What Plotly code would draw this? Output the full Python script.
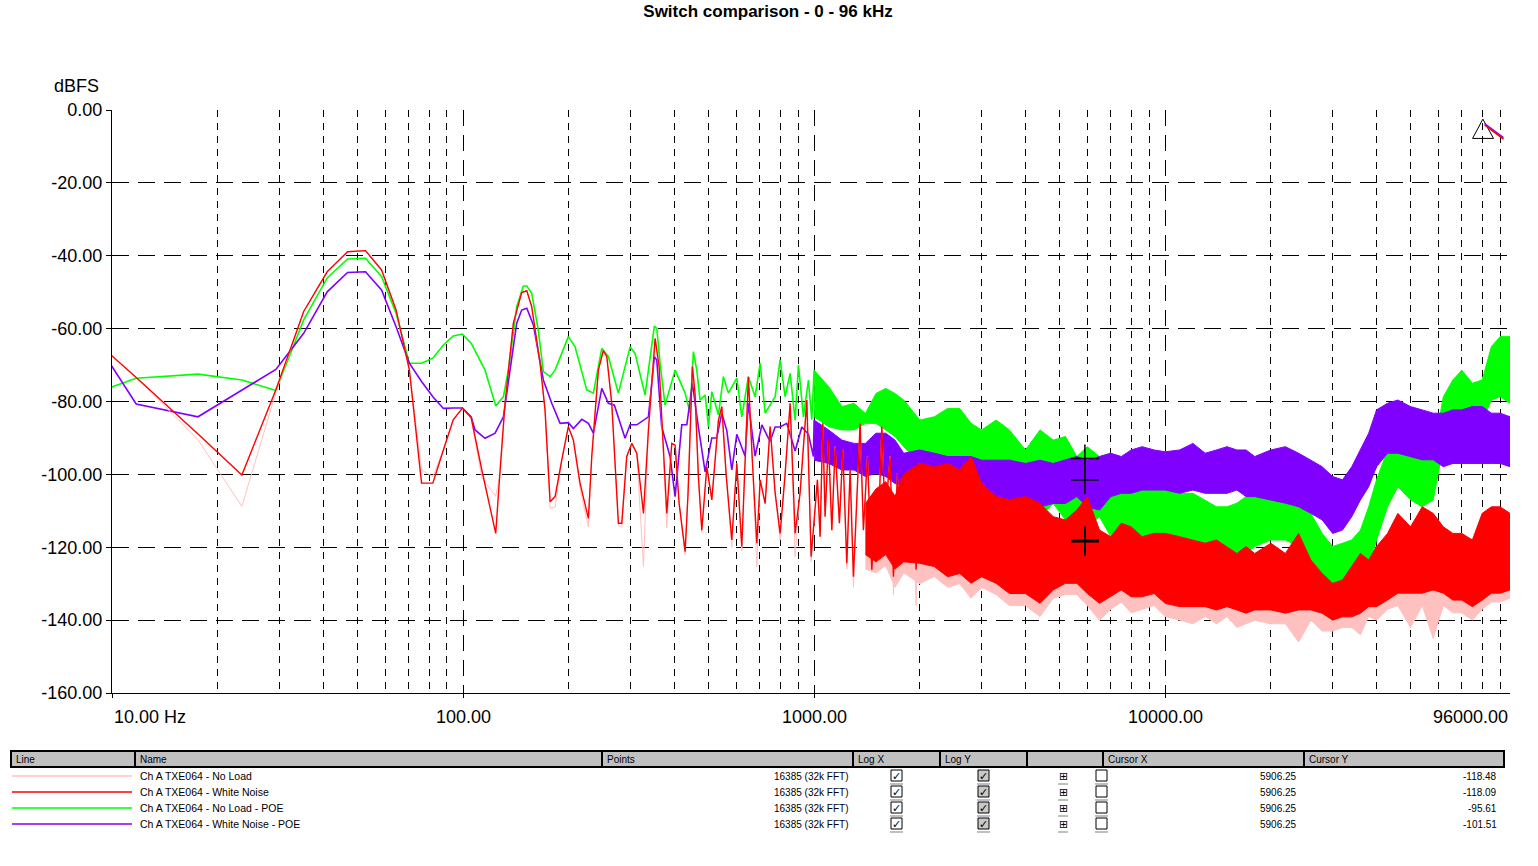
import math
import plotly.graph_objects as go

TITLE = "Switch comparison - 0 - 96 kHz"
SERIES_NAMES = ["Ch A TXE064 - No Load", "Ch A TXE064 - White Noise",
                "Ch A TXE064 - No Load - POE", "Ch A TXE064 - White Noise - POE"]
SERIES_COLOURS = ["#ffc0c0", "#ff0000", "#00ff00", "#8000ff"]
POINTS_TEXT = "16385 (32k FFT)"
CURSOR_X = [5906.25, 5906.25, 5906.25, 5906.25]
CURSOR_Y = [-118.48, -118.09, -95.61, -101.51]

# individual FFT bins (k * 5.859 Hz) at the bottom end
LOW_F = [5.86, 11.72, 17.58, 23.44, 29.30, 35.16, 41.02, 46.88, 52.73, 58.59,
         64.45, 70.31, 76.17, 82.03, 87.89, 93.75, 99.61, 105.47]
PINK_LOW = [-47.6, -73.4, -90.5, -108.8, -77.5, -55.3, -44.4, -38.9, -38.6, -43.9,
            -54.9, -71.3, -98.8, -100.6, -93.3, -85.0, -81.8, -84.5]
RED_LOW = [-47.6, -73.4, -88.9, -100.2, -76.8, -55.3, -44.4, -38.9, -38.6, -43.9,
           -54.9, -71.3, -102.4, -102.4, -93.3, -85.0, -81.8, -84.5]
GREEN_LOW = [-84.1, -73.6, -72.5, -74.1, -77.0, -57.6, -46.1, -40.9, -40.7, -45.7,
             -55.8, -69.5, -69.5, -68.1, -64.5, -62.0, -61.5, -64.0]
PURPLE_LOW = [-35.8, -80.7, -84.2, -76.8, -71.2, -61.3, -49.9, -44.6, -44.4, -49.4,
              -59.5, -69.5, -74.5, -78.7, -81.9, -81.8, -81.8, -84.2]

RED_MID_F = [113.1, 123.9, 127.5, 131.7, 139.1, 146.9, 151.9, 156.9, 165.7, 171.2,
             177.0, 182.9, 191.1, 199.5, 206.2, 215.4, 227.5, 232.6, 242.9, 251.0,
             256.7, 265.2, 277.0, 283.2, 292.6, 302.4, 312.5, 326.5, 337.3, 352.4,
             361.8, 372.1, 380.5, 393.1, 401.8, 412.5, 429.1, 437.5, 450.1, 458.1,
             468.1, 478.7, 494.7, 511.2, 533.9, 545.8, 561.5, 582.8, 602.3, 622.3,
             649.8, 665.9, 686.8, 702.0, 725.4, 749.3, 774.3, 800.1, 826.8, 854.4,
             882.8, 912.3, 953.3, 980.6,
             1021.9, 1040.1, 1058.6, 1074.7, 1098.5, 1123.2, 1147.7, 1180.6, 1207.2, 1239.3,
             1266.4, 1294.1, 1352.3, 1381.9, 1418.6, 1460.1, 1501.7, 1524.7, 1559.1, 1593.2,
             1646.3, 1682.3, 1727.1, 1766.1, 1804.7, 1844.2, 1898.0, 1952.5, 1995.3]
RED_MID = [-98.8, -116.2, -98.8, -80.5, -58.5, -50.1, -49.6, -54.0, -69.5, -82.3,
           -107.5, -106.1, -96.0, -86.9, -90.6, -102.4, -112.1, -95.1, -71.4, -66.0,
           -67.7, -80.5, -113.4, -113.4, -95.1, -91.5, -94.2, -110.7, -87.8, -62.7,
           -70.4, -95.1, -110.7, -91.5, -92.0, -107.9, -121.2, -105.0, -70.4, -78.0,
           -100.6, -115.3, -97.9, -107.0, -85.1, -81.4, -100.0, -118.0, -97.0, -119.8,
           -73.2, -95.0, -118.9, -101.5, -108.0, -86.9, -105.0, -116.2, -100.0, -80.5,
           -116.2, -105.0, -79.6, -122.6,
           -101.5, -117.1, -86.0, -111.6, -90.6, -115.3, -92.4, -113.4, -93.3, -124.4,
           -98.8, -128.1, -86.0, -115.3, -95.1, -126.2, -104.3, -114.4, -86.9, -111.6,
           -95.1, -128.1, -99.7, -124.4, -106.1, -119.8, -98.8, -126.2, -97.0]
PINK_MID = [-101.0, -106.0, -100.0, -80.5, -58.5, -50.1, -49.6, -54.0, -69.5, -82.3,
            -109.3, -109.0, -96.0, -86.9, -90.6, -104.0, -114.4, -95.1, -71.4, -66.0,
            -67.7, -80.5, -114.0, -114.5, -95.1, -91.5, -94.2, -125.3, -87.8, -62.7,
            -70.4, -95.1, -114.7, -91.5, -92.0, -107.9, -122.0, -105.0, -70.4, -78.0,
            -100.6, -116.0, -97.9, -107.0, -85.1, -81.4, -100.0, -120.0, -97.0, -121.0,
            -73.2, -95.0, -125.3, -101.5, -108.0, -86.9, -105.0, -118.0, -100.0, -80.5,
            -122.6, -105.0, -79.6, -124.0,
            -101.5, -117.1, -86.0, -111.6, -90.6, -115.3, -92.4, -113.4, -93.3, -126.0,
            -98.8, -131.0, -86.0, -115.3, -95.1, -127.0, -104.3, -114.4, -86.9, -111.6,
            -95.1, -133.0, -99.7, -128.0, -106.1, -119.8, -98.8, -135.9, -97.0]
GREEN_MID_F = [115.5, 123.9, 130.3, 134.6, 142.2, 148.5, 151.9, 156.9, 163.8, 169.3,
               177.0, 182.9, 199.5, 208.5, 225.1, 235.1, 248.4, 259.4, 277.0, 299.1,
               309.0, 330.0, 350.7, 356.3, 364.1, 376.2, 401.8, 429.1, 443.3, 453.0,
               463.2, 473.3, 489.3, 500.0, 511.2, 533.9, 551.5, 569.9, 602.3, 622.3,
               649.8, 679.1, 702.0, 725.4, 774.3, 800.1, 826.8, 854.4, 882.8, 902.4,
               932.3, 963.4, 985.0]
GREEN_MID = [-71.4, -81.2, -78.7, -71.4, -54.0, -48.3, -48.3, -50.3, -60.4, -71.8,
             -73.2, -71.4, -62.2, -65.0, -76.8, -77.7, -65.4, -67.7, -77.7, -65.0,
             -66.8, -78.2, -59.3, -59.9, -69.5, -81.0, -71.4, -77.7, -83.2, -66.3,
             -71.4, -79.6, -78.2, -86.9, -77.3, -83.7, -73.2, -77.7, -73.6, -84.2,
             -73.2, -78.7, -69.5, -83.2, -78.7, -68.6, -78.7, -72.3, -85.1, -70.0,
             -84.2, -74.1, -85.0]
PURPLE_MID_F = [108.2, 115.5, 123.4, 130.3, 136.1, 142.2, 146.9, 151.9, 158.6, 169.3,
                178.9, 189.0, 199.5, 206.2, 217.9, 227.5, 235.1, 248.4, 259.4, 269.8,
                289.4, 299.1, 312.5, 326.5, 337.3, 350.7, 356.3, 367.9, 388.8, 401.8,
                419.8, 433.9, 450.1, 468.1, 489.3, 511.2, 527.9, 545.8, 564.0, 582.8,
                602.3, 636.0, 649.8, 679.1, 709.9, 749.3, 774.3, 800.1, 836.0, 882.8,
                922.3, 963.4, 995.5]
PURPLE_MID = [-87.8, -90.1, -88.7, -84.2, -71.4, -58.5, -54.9, -54.4, -59.0, -74.1,
              -80.5, -86.0, -85.8, -87.4, -84.9, -86.0, -88.7, -76.4, -80.5, -81.0,
              -90.1, -86.4, -86.4, -85.0, -84.2, -67.7, -68.6, -86.9, -95.1, -106.1,
              -86.4, -86.4, -75.0, -87.0, -99.3, -90.0, -90.0, -83.2, -88.0, -98.8,
              -89.0, -95.0, -80.5, -95.0, -86.4, -91.0, -87.0, -87.0, -86.0, -93.6,
              -87.0, -89.0, -95.1]

# upper / lower edge of the dense noise band at the top end
HI_F = [1000, 1100, 1200, 1300, 1400, 1500, 1600, 1700, 1800, 2000,
        2200, 2400, 2600, 2800, 3000, 3300, 3600, 4000, 4400, 4800,
        5200, 5600, 6000, 6500, 7000, 7500, 8000, 8600, 9300, 10000,
        11000, 12000, 13000, 14000, 15000, 16000, 17000, 18000, 20000, 22000,
        24000, 26000, 28000, 30000, 32000, 34000, 36000, 38000, 40000, 43000,
        46000, 50000, 54000, 58000, 62000, 66000, 70000, 75000, 80000, 85000,
        90000, 96000]
GREEN_HI_TOP = [-71.4, -75.9, -81.4, -80.5, -83.3, -77.8, -76.4, -77.8, -79.6, -85.1,
                -84.2, -81.9, -81.9, -86.0, -87.8, -85.1, -87.8, -93.3, -87.8, -90.6,
                -89.6, -95.1, -92.4, -95.1, -94.2, -100.6, -101.5, -102.5, -103.4, -103.4,
                -105.2, -105.2, -107.0, -108.9, -108.9, -107.9, -106.1, -104.3, -103.4, -103.4,
                -106.1, -110.7, -116.2, -119.8, -118.9, -118.0, -115.3, -108.9, -101.5, -93.3,
                -92.4, -94.2, -95.1, -94.2, -78.7, -74.1, -71.4, -75.0, -74.1, -64.9,
                -62.2, -62.2]
GREEN_HI_BOT = [-84.2, -86.9, -87.8, -87.8, -86.0, -86.0, -87.8, -89.6, -92.4, -97.0,
                -96.1, -95.1, -98.8, -99.7, -101.5, -103.4, -104.3, -103.4, -111.6, -108.0,
                -112.5, -113.4, -114.4, -111.6, -117.1, -118.9, -117.1, -117.1, -118.9, -118.0,
                -121.7, -123.5, -123.5, -122.6, -121.7, -123.5, -121.7, -119.8, -118.0, -118.0,
                -119.8, -125.3, -130.8, -134.5, -134.5, -132.6, -130.8, -125.3, -118.0, -108.9,
                -103.4, -107.0, -108.9, -107.0, -92.4, -85.1, -83.2, -83.2, -85.1, -79.6,
                -78.7, -80.5]
PURPLE_HI_TOP = [-85.1, -87.8, -90.6, -91.5, -91.5, -88.7, -88.7, -90.6, -94.2, -93.3,
                 -94.2, -95.1, -95.1, -95.1, -96.1, -96.1, -96.1, -97.0, -96.1, -97.0,
                 -96.1, -95.1, -96.1, -95.1, -94.2, -95.1, -93.3, -92.4, -93.3, -93.8,
                 -93.3, -91.5, -94.2, -93.3, -92.4, -93.3, -93.3, -95.1, -93.3, -92.4,
                 -94.2, -96.1, -97.9, -100.6, -101.5, -97.9, -93.3, -88.7, -82.3, -80.5,
                 -79.6, -81.4, -82.3, -83.2, -83.2, -82.3, -82.3, -81.4, -81.4, -83.2,
                 -83.2, -84.2]
PURPLE_HI_BOT = [-96.1, -97.0, -98.8, -98.8, -100.6, -99.7, -100.6, -102.5, -103.4, -104.3,
                 -103.4, -104.3, -106.1, -106.1, -108.0, -109.8, -108.0, -108.9, -108.9, -108.0,
                 -108.0, -106.1, -108.9, -109.8, -106.1, -105.2, -105.2, -104.3, -104.3, -104.3,
                 -105.2, -104.3, -105.2, -105.2, -105.2, -104.3, -106.1, -106.1, -107.0, -107.9,
                 -108.9, -110.7, -112.5, -116.2, -115.3, -111.6, -107.0, -103.4, -97.9, -94.2,
                 -94.2, -95.1, -96.0, -96.0, -97.9, -97.0, -97.0, -97.0, -97.0, -97.0,
                 -97.0, -97.9]
# red and pink bands start at 1400 Hz
RED_HI_START = 1400
RED_HI_TOP = [-108.0, -104.0, -102.0, -106.0, -100.0,
              -97.0, -98.0, -97.0, -98.8, -95.1, -102.5, -106.1, -107.0, -106.1, -108.0,
              -111.6, -112.5, -109.8, -106.1, -115.3, -117.1, -113.4, -114.4, -117.1, -116.2,
              -116.2, -117.1, -118.0, -118.9, -118.0, -119.8, -121.7, -119.8, -121.7, -118.9,
              -121.7, -116.2, -123.5, -127.2, -129.9, -129.0, -125.3, -121.7, -123.5, -119.8,
              -116.2, -110.7, -114.4, -108.9, -110.7, -114.4, -116.2, -116.2, -118.0, -110.7,
              -108.9, -108.9, -110.7]
RED_HI_BOT = [-122.0, -124.0, -122.0, -126.0, -124.0,
              -124.4, -125.3, -128.1, -127.2, -129.9, -128.1, -129.9, -132.7, -132.7, -135.4,
              -131.7, -129.9, -129.9, -132.7, -135.4, -133.6, -131.7, -133.6, -133.6, -132.7,
              -135.4, -136.3, -136.3, -136.3, -137.2, -136.3, -137.2, -138.1, -137.2, -137.2,
              -138.1, -137.2, -137.2, -138.1, -140.0, -139.1, -139.1, -138.1, -136.3, -136.3,
              -134.5, -132.6, -132.6, -132.6, -131.7, -132.6, -134.5, -134.5, -136.3, -134.5,
              -132.6, -132.6, -131.7]
PINK_HI_TOP = [-110, -107, -105, -108, -103,
               -100, -100, -100, -102, -100, -105, -108, -110, -110, -112,
               -114, -115, -114, -112, -117, -119, -117, -118, -119, -119,
               -119, -120, -121, -121, -121, -122, -123, -122, -123, -122,
               -123, -120, -125, -128, -131, -130, -128, -125, -126, -123,
               -120, -116, -118, -114, -115, -117, -119, -119, -120, -115,
               -113, -113, -114]
PINK_HI_BOT = [-126, -127, -125, -131, -127,
               -130, -128, -131, -130, -134, -131, -133, -136, -136, -139,
               -134, -133, -133, -136, -140, -137, -135, -138, -137, -136,
               -139, -140, -141, -139, -141, -139, -142, -141, -140, -141,
               -141, -146, -140, -143, -143, -142, -142, -144, -139, -140,
               -137, -136, -142, -136, -145, -136, -138, -138, -140, -137,
               -135, -135, -134]

# marker glyph in the top right corner
MARK_TRI_F = [80360, 75090, 86160, 80360]
MARK_TRI_DB = [-2.5, -7.8, -7.8, -2.5]
MARK_LINE_F = [81220, 91990]
MARK_LINE_DB = [-4.1, -8.0]

Y_TICKS = [0, -20, -40, -60, -80, -100, -120, -140, -160]
X_LABELS = [(10, "10.00 Hz", "left"), (100, "100.00", "center"), (1000, "1000.00", "center"),
            (10000, "10000.00", "center"), (96000, "96000.00", "right")]

FONT = "Liberation Sans, Arial, sans-serif"
W, H = 1538, 866
L, R, T, B = 112, 28, 110, 173
PW, PH = W - L - R, H - T - B


def px(X):
    return (X - L) / PW


def py(Y):
    return (H - B - Y) / PH


def band(f, top, bot, colour):
    return go.Scatter(x=list(f) + list(f)[::-1], y=list(top) + list(bot)[::-1],
                      mode='lines', fill='toself', fillcolor=colour,
                      line=dict(color=colour, width=1), hoverinfo='skip', showlegend=False)


def curve(f, db, colour, width):
    return go.Scatter(x=f, y=db, mode='lines', line=dict(color=colour, width=width),
                      hoverinfo='skip', showlegend=False)


pink, red, green, purple = SERIES_COLOURS
i0 = HI_F.index(RED_HI_START)

fig = go.Figure()
# drawing order: green, purple, pink, red on top
fig.add_trace(band(HI_F, GREEN_HI_TOP, GREEN_HI_BOT, green))
fig.add_trace(curve(LOW_F + GREEN_MID_F + HI_F[:1], GREEN_LOW + GREEN_MID + GREEN_HI_TOP[:1], green, 1.6))
fig.add_trace(band(HI_F, PURPLE_HI_TOP, PURPLE_HI_BOT, purple))
fig.add_trace(curve(LOW_F + PURPLE_MID_F + HI_F[:1], PURPLE_LOW + PURPLE_MID + PURPLE_HI_TOP[:1], purple, 1.6))
fig.add_trace(band(HI_F[i0:], PINK_HI_TOP, PINK_HI_BOT, pink))
fig.add_trace(curve(LOW_F + RED_MID_F, PINK_LOW + PINK_MID, pink, 1))
fig.add_trace(band(HI_F[i0:], RED_HI_TOP, RED_HI_BOT, red))
fig.add_trace(curve(LOW_F + RED_MID_F, RED_LOW + RED_MID, red, 1.4))

fig.add_trace(go.Scatter(x=CURSOR_X, y=CURSOR_Y, mode='markers', hoverinfo='skip', showlegend=False,
                         marker=dict(symbol='cross-thin', size=20, line=dict(color='black', width=1.5))))
fig.add_trace(go.Scatter(x=MARK_TRI_F, y=MARK_TRI_DB, mode='lines', hoverinfo='skip', showlegend=False,
                         line=dict(color='black', width=1)))
fig.add_trace(go.Scatter(x=MARK_LINE_F, y=[v + 0.4 for v in MARK_LINE_DB], mode='lines', hoverinfo='skip',
                         showlegend=False, line=dict(color=purple, width=1.5)))
fig.add_trace(go.Scatter(x=MARK_LINE_F, y=MARK_LINE_DB, mode='lines', hoverinfo='skip', showlegend=False,
                         line=dict(color=red, width=1.5)))

minor_x = [m * d for d in (10, 100, 1000, 10000) for m in range(2, 10)] + [96000]

fig.update_layout(
    width=W, height=H, margin=dict(l=L, r=R, t=T, b=B),
    paper_bgcolor='white', plot_bgcolor='white',
    font=dict(family=FONT, color='black'),
    title=dict(text="<b>" + TITLE + "</b>", x=768 / W, xanchor='center', y=1 - 11 / H,
               yanchor='middle', font=dict(size=17, family=FONT, color='black')),
    xaxis=dict(type='log', range=[1, math.log10(96000)], showline=True, linecolor='black', linewidth=1,
               tickvals=[10, 100, 1000, 10000], ticks='outside', ticklen=4, tickcolor='black',
               showticklabels=False, showgrid=True, gridcolor='black', gridwidth=1, griddash='16px,9px',
               zeroline=False,
               minor=dict(tickvals=minor_x, showgrid=True, gridcolor='black', gridwidth=1,
                          griddash='7px,6px', ticks='')),
    yaxis=dict(range=[-160, 0], showline=True, linecolor='black', linewidth=1,
               tickvals=Y_TICKS, ticktext=["%.2f" % v for v in Y_TICKS], ticks='outside', ticklen=5,
               tickcolor='black', tickfont=dict(size=18, family=FONT), showgrid=True, gridcolor='black',
               gridwidth=1, griddash='17px,9px', zeroline=False),
)

ann = []
shapes = []
ann.append(dict(text="dBFS", xref='paper', yref='paper', x=px(101), y=py(86), xanchor='right',
                yanchor='middle', showarrow=False, font=dict(size=18, family=FONT)))
for f, txt, anchor in X_LABELS:
    ann.append(dict(text=txt, xref='x', yref='paper', x=math.log10(f), y=0, yshift=-24, xanchor=anchor,
                    yanchor='middle', showarrow=False, font=dict(size=18, family=FONT)))

# bottom table
COL_X = [11, 135, 602, 853, 940, 1027, 1103, 1304, 1504]
COL_NAMES = ["Line", "Name", "Points", "Log X", "Log Y", "", "Cursor X", "Cursor Y"]
ROW_Y = [776, 792, 808, 824]
tfont = dict(size=10, family=FONT, color='black')

shapes.append(dict(type='rect', xref='paper', yref='paper', x0=px(11), x1=px(1504), y0=py(767), y1=py(751),
                   fillcolor='#c0c0c0', line=dict(color='black', width=2), layer='above'))
for cx in COL_X[1:-1]:
    shapes.append(dict(type='line', xref='paper', yref='paper', x0=px(cx), x1=px(cx), y0=py(767), y1=py(751),
                       line=dict(color='black', width=2)))
for cx, name in zip(COL_X, COL_NAMES):
    if name:
        ann.append(dict(text=name, xref='paper', yref='paper', x=px(cx + 3), y=py(759), xanchor='left',
                        yanchor='middle', showarrow=False, font=tfont))

for i, ry in enumerate(ROW_Y):
    shapes.append(dict(type='line', xref='paper', yref='paper', x0=px(12), x1=px(132), y0=py(ry), y1=py(ry),
                       line=dict(color=SERIES_COLOURS[i], width=1.5)))
    ann.append(dict(text=SERIES_NAMES[i], xref='paper', yref='paper', x=px(138), y=py(ry), xanchor='left',
                    yanchor='middle', showarrow=False, font=dict(size=10.5, family=FONT)))
    ann.append(dict(text=POINTS_TEXT, xref='paper', yref='paper', x=px(850), y=py(ry), xanchor='right',
                    yanchor='middle', showarrow=False, font=tfont))
    for bx, fill, tick in ((891, 'white', True), (978, '#c8c8c8', True), (1096, 'white', False)):
        shapes.append(dict(type='rect', xref='paper', yref='paper', x0=px(bx), x1=px(bx + 11),
                           y0=py(ry + 5), y1=py(ry - 6), fillcolor=fill, line=dict(color='black', width=1)))
        shapes.append(dict(type='line', xref='paper', yref='paper', x0=px(bx - 1), x1=px(bx + 12),
                           y0=py(ry + 8), y1=py(ry + 8), line=dict(color='#808080', width=1)))
        if tick:
            ann.append(dict(text="✓", xref='paper', yref='paper', x=px(bx + 5.5), y=py(ry), xanchor='center',
                            yanchor='middle', showarrow=False,
                            font=dict(size=11, family="DejaVu Sans", color='black')))
    ann.append(dict(text="⊞", xref='paper', yref='paper', x=px(1063), y=py(ry), xanchor='center',
                    yanchor='middle', showarrow=False, font=dict(size=11, family="DejaVu Sans")))
    shapes.append(dict(type='line', xref='paper', yref='paper', x0=px(1058), x1=px(1068),
                       y0=py(ry + 8), y1=py(ry + 8), line=dict(color='#808080', width=1)))
    ann.append(dict(text="%.2f" % CURSOR_X[i], xref='paper', yref='paper', x=px(1299), y=py(ry),
                    xanchor='right', yanchor='middle', showarrow=False, font=tfont))
    ann.append(dict(text="%.2f" % CURSOR_Y[i], xref='paper', yref='paper', x=px(1499), y=py(ry),
                    xanchor='right', yanchor='middle', showarrow=False, font=tfont))

fig.update_layout(annotations=ann, shapes=shapes)
# drop the browser's default 8px page margin so the figure sits at the window corner
fig.write_html("out.html", config={"displayModeBar": False},
               post_script="document.body.style.margin = '0';")
